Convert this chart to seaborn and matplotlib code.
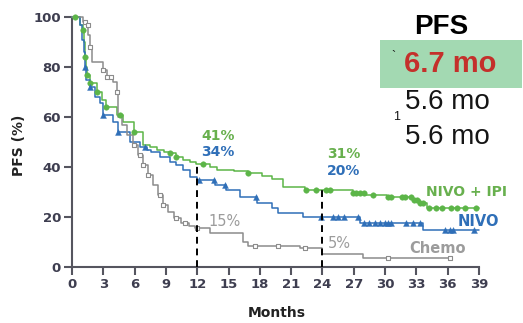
import numpy as np
import pandas as pd
import matplotlib
matplotlib.use("Agg")
import matplotlib.pyplot as plt
import matplotlib.patches as mpatches
import seaborn as sns

# ---------------- data ----------------
months_ticks = [0, 3, 6, 9, 12, 15, 18, 21, 24, 27, 30, 33, 36, 39]
pfs_ticks = [0, 20, 40, 60, 80, 100]

t_nivo_ipi = [0, 0.8, 1.05, 1.15, 1.25, 1.35, 1.45, 1.7, 2.4, 2.9, 3.3, 4.3, 4.9, 5.9, 6.8,
              7.5, 8.1, 8.8, 9.4, 10.0, 10.6, 11.3, 11.9, 13.2, 13.9, 15.5, 16.9, 18.2, 19.2,
              20.2, 22.3, 26.9, 28.2, 30.2, 32.7, 33.3, 34.0, 39.0]
s_nivo_ipi = [100, 97, 95, 90, 84, 80, 77, 73.6, 70, 67, 64, 61, 58, 54, 49,
              48, 47, 46, 45.5, 44, 43, 42, 41.3, 40, 39, 38.3, 37.6, 36.5, 35.2,
              32, 31, 29.8, 28.8, 28, 26.8, 25.6, 23.8, 23.8]
c_nivo_ipi = [0.3, 1.05, 1.25, 1.45, 1.7, 2.4, 3.3, 4.6, 5.9, 9.4, 10.0, 12.6, 16.9, 22.4,
              23.4, 24.3, 24.7, 26.9, 27.2, 27.6, 28.0, 28.8, 30.3, 30.6, 31.6, 31.9, 32.5,
              32.8, 33.1, 33.3, 33.6, 34.2, 34.9, 35.5, 36.3, 36.9, 37.7, 38.7]

t_nivo = [0, 0.8, 1.0, 1.15, 1.25, 1.35, 1.7, 2.2, 2.7, 3.0, 3.9, 4.4, 5.6, 6.5, 7.2, 7.6,
          8.4, 9.4, 10.0, 10.6, 11.3, 12.0, 13.7, 14.8, 16.1, 17.7, 19.2, 19.7, 22.1, 27.6,
          33.6, 39.0]
s_nivo = [100, 97, 91, 86, 80, 75, 72, 68, 65.6, 61, 58, 54, 50, 48, 47, 46,
          44, 42, 41, 39, 36, 35, 33, 31, 28, 25.6, 23.6, 21.6, 20, 17.6,
          14.8, 14.8]
c_nivo = [1.25, 1.7, 3.0, 4.4, 7.0, 12.2, 13.6, 14.7, 17.6, 23.9, 25.0, 25.5, 26.1, 27.4,
          28.0, 28.5, 29.0, 29.5, 30.0, 30.3, 30.6, 32.0, 32.7, 33.3, 35.7, 36.2, 36.5, 38.5]

t_chemo = [0, 1.1, 1.4, 1.55, 1.7, 1.9, 3.0, 3.4, 3.9, 4.3, 4.4, 4.8, 5.3, 5.8, 6.3, 6.8,
           7.3, 7.8, 8.2, 8.7, 9.2, 9.8, 10.4, 11.2, 11.8, 13.2, 16.4, 16.9, 21.8, 24.0,
           27.9, 36.2]
s_chemo = [100, 98, 97, 93, 88, 82, 79, 76, 74, 70, 60, 57, 53, 49, 45, 41,
           37, 33, 29, 25, 22, 19.5, 17.5, 16.5, 15.5, 13.6, 10, 8.4, 7.6, 5.2,
           3.6, 3.6]
c_chemo = [1.2, 1.5, 1.7, 3.0, 3.4, 3.7, 4.3, 5.9, 6.5, 6.8, 7.3, 8.4, 8.7, 10.0, 10.8,
           12.0, 17.5, 19.7, 22.3, 30.3, 36.2]

landmark_months = [12, 24]
landmark_nivo_ipi = ["41%", "31%"]
landmark_nivo = ["34%", "20%"]
landmark_chemo = ["15%", "5%"]

median_labels = ["6.7 mo", "5.6 mo", "5.6 mo"]

# ---------------- style ----------------
GREEN = "#5cb548"
GREEN_TXT = "#68b04e"
BLUE = "#2f6fb8"
GRAY = "#8c8c8c"
GRAY_TXT = "#9c9c9c"
AX_COL = "#55555f"
TICK_COL = "#3e3e50"

sns.set_style("ticks")
plt.rcParams["font.family"] = ["DejaVu Sans"]

W, H = 523, 323
fig = plt.figure(figsize=(W / 100, H / 100), dpi=100)
ax = fig.add_axes([72 / W, 56 / H, 407 / W, 250 / H])


def step_at(ts, ss, x):
    i = np.searchsorted(np.asarray(ts), x, side="right") - 1
    return np.asarray(ss)[i]


series = [
    ("NIVO + IPI", t_nivo_ipi, s_nivo_ipi, c_nivo_ipi, GREEN, "o", 16, GREEN),
    ("NIVO", t_nivo, s_nivo, c_nivo, BLUE, "^", 18, BLUE),
    ("Chemo", t_chemo, s_chemo, c_chemo, GRAY, "s", 10, "none"),
]

for name, ts, ss, cs, col, mk, msz, fc in series:
    df = pd.DataFrame({"Months": ts, "PFS": ss})
    sns.lineplot(data=df, x="Months", y="PFS", drawstyle="steps-post", estimator=None,
                 color=col, lw=1.1, ax=ax, clip_on=False, zorder=3)
    dc = pd.DataFrame({"Months": cs, "PFS": step_at(ts, ss, np.asarray(cs))})
    if fc == "none":
        sns.scatterplot(data=dc, x="Months", y="PFS", marker=mk, s=msz, facecolor="white",
                        edgecolor=col, linewidth=0.8, ax=ax, clip_on=False, zorder=4)
    else:
        sns.scatterplot(data=dc, x="Months", y="PFS", marker=mk, s=msz, color=col,
                        edgecolor=col, linewidth=0.3, ax=ax, clip_on=False, zorder=4)

# landmark dashed lines
for m in landmark_months:
    top = step_at(t_nivo_ipi, s_nivo_ipi, m)
    ax.plot([m, m], [0, top], ls=(0, (3.5, 2.5)), color="black", lw=1.4, zorder=5)

# landmark labels
for m, g, b, c in zip(landmark_months, landmark_nivo_ipi, landmark_nivo, landmark_chemo):
    xo = m + 2.0
    ax.text(xo, 52.5 if m == 12 else 45, g, color=GREEN_TXT, fontsize=10, fontweight="bold",
            ha="center", va="center")
    ax.text(xo, 46 if m == 12 else 38.5, b, color=BLUE, fontsize=10, fontweight="bold",
            ha="center", va="center")
    ax.text(m + (2.6 if m == 12 else 1.6), 18 if m == 12 else 9.6, c, color=GRAY_TXT,
            fontsize=10.5, ha="center", va="center")

# series labels
ax.text(37.8, 30, "NIVO + IPI", color=GREEN_TXT, fontsize=10, fontweight="bold",
        ha="center", va="center", clip_on=False)
ax.text(38.9, 18.2, "NIVO", color=BLUE, fontsize=10.5, fontweight="bold",
        ha="center", va="center", clip_on=False)
ax.text(35.0, 7.4, "Chemo", color=GRAY_TXT, fontsize=10.5, fontweight="bold",
        ha="center", va="center", clip_on=False)

# axes
ax.set_xlim(0, 39)
ax.set_ylim(0, 100)
ax.set_xticks(months_ticks)
ax.set_yticks(pfs_ticks)
ax.set_xticklabels([str(v) for v in months_ticks])
ax.set_yticklabels([str(v) for v in pfs_ticks])
for s in ["top", "right"]:
    ax.spines[s].set_visible(False)
for s in ["left", "bottom"]:
    ax.spines[s].set_color(AX_COL)
    ax.spines[s].set_linewidth(1.5)
ax.tick_params(axis="both", colors=AX_COL, width=1.5, length=6, labelsize=9.5,
               labelcolor=TICK_COL, pad=2)
for lab in ax.get_xticklabels() + ax.get_yticklabels():
    lab.set_fontweight("bold")

ax.set_xlabel("Months", fontsize=10, fontweight="bold", color="#222222")
ax.xaxis.set_label_coords((277 - 72) / 407, (267 - 313) / 250)
ax.xaxis.label.set_va("center")
ax.set_ylabel("PFS (%)", fontsize=10, fontweight="bold", color="#222222")
ax.yaxis.set_label_coords((19 - 72) / 407, (267 - 145) / 250)
ax.yaxis.label.set_va("center")

# right-hand median PFS panel
fig.patches.append(mpatches.Rectangle((380 / W, 1 - 88 / H), 142 / W, 48 / H,
                                      transform=fig.transFigure, facecolor="#a3d9b2",
                                      edgecolor="none", zorder=0))
fig.text(441 / W, 1 - 27 / H, "PFS", family="Liberation Sans", fontsize=20,
         fontweight="bold", color="black", ha="center", va="center")
fig.text(450 / W, 1 - 64 / H, median_labels[0], family="Liberation Sans", fontsize=21,
         fontweight="bold", color="#c4302b", ha="center", va="center")
fig.text(447 / W, 1 - 102 / H, median_labels[1], family="Liberation Sans", fontsize=20,
         color="#151515", ha="center", va="center")
fig.text(447 / W, 1 - 137 / H, median_labels[2], family="Liberation Sans", fontsize=20,
         color="#151515", ha="center", va="center")
fig.text(397 / W, 1 - 117 / H, "1", family="Liberation Sans", fontsize=9,
         color="#151515", ha="center", va="center")
fig.text(393 / W, 1 - 57 / H, "`", family="Liberation Sans", fontsize=9,
         color="#151515", ha="center", va="center")

fig.savefig("out.png", dpi=100)
